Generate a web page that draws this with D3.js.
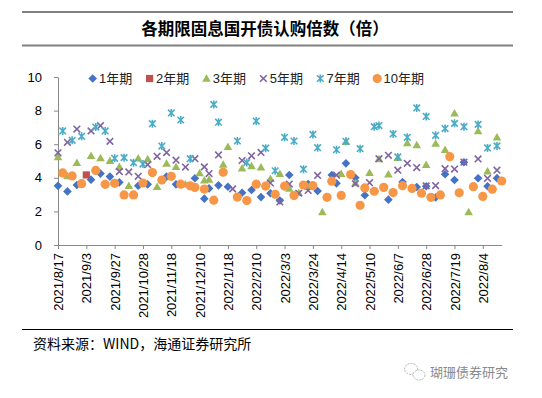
<!DOCTYPE html>
<html>
<head>
<meta charset="utf-8">
<script src="https://cdn.jsdelivr.net/npm/d3@7"></script>
<style>
  body{margin:0;background:#fff;}
  svg{display:block;font-family:"Liberation Sans",Arial,"Noto Sans CJK SC",sans-serif;}
  .axis path,.axis line{stroke:#898989;}
  .axis text{fill:#000;font-size:13px;font-family:"Liberation Sans",Arial,sans-serif;}
</style>
</head>
<body>
<div class="chart-container"></div>
<script>
//data: one category per issue date, null = that tenor was not issued that day
const _ = null;
const categories = [
  '2021/8/17','2021/8/19','2021/8/23','2021/8/24','2021/8/26','2021/8/31',
  '2021/9/3','2021/9/7','2021/9/9','2021/9/13','2021/9/15','2021/9/23',
  '2021/9/27','2021/9/29','2021/10/12','2021/10/18','2021/10/20','2021/10/25',
  '2021/10/28','2021/11/1','2021/11/3','2021/11/8','2021/11/10','2021/11/15',
  '2021/11/18','2021/11/22','2021/11/24','2021/11/29','2021/12/1','2021/12/6',
  '2021/12/10','2021/12/13','2021/12/15','2021/12/20','2021/12/27','2022/1/11',
  '2022/1/18','2022/1/19','2022/1/24','2022/1/26','2022/2/7','2022/2/8',
  '2022/2/10','2022/2/14','2022/2/16','2022/2/21','2022/2/23','2022/2/28',
  '2022/3/3','2022/3/7','2022/3/9','2022/3/14','2022/3/16','2022/3/21',
  '2022/3/24','2022/3/28','2022/3/30','2022/4/6','2022/4/11','2022/4/12',
  '2022/4/14','2022/4/18','2022/4/20','2022/4/25','2022/4/27','2022/5/9',
  '2022/5/10','2022/5/16','2022/5/18','2022/5/23','2022/5/25','2022/5/30',
  '2022/6/7','2022/6/13','2022/6/15','2022/6/20','2022/6/22','2022/6/27',
  '2022/6/28','2022/7/4','2022/7/6','2022/7/11','2022/7/13','2022/7/18',
  '2022/7/19','2022/7/21','2022/7/25','2022/7/27','2022/8/1','2022/8/3',
  '2022/8/4','2022/8/8','2022/8/10','2022/8/15','2022/8/17'
];
const tickLabels = ['2021/8/17','2021/9/3','2021/9/27','2021/10/28','2021/11/18','2021/12/10',
  '2022/1/18','2022/2/10','2022/3/3','2022/3/24','2022/4/14','2022/5/10',
  '2022/6/7','2022/6/28','2022/7/19','2022/8/4'];
const yTicks = [0,2,4,6,8,10];

const y1 = [3.52,_,3.19,_,3.57,_,_,3.89,_,4.25,
  _,4.07,_,3.73,_,_,_,3.53,_,3.61,
  _,_,_,4.07,_,3.61,_,_,_,3.97,
  _,2.76,3.37,_,3.55,_,3.47,_,_,3.11,
  _,3.27,_,2.85,_,3.08,_,2.65,_,4.17,
  _,_,_,3.63,_,3.21,_,_,4.17,3.67,
  _,4.86,_,4.00,_,2.96,_,_,_,_,
  2.70,_,_,3.75,_,_,3.45,_,3.50,_,
  2.83,_,4.21,_,3.87,_,4.93,_,_,3.97,
  _,3.50,_,3.98,_];
const y2 = [_,_,_,_,_,_,4.17,_,_,_,
  _,_,_,_,_,_,_,_,_,_, _,_,_,_,_,_,_,_,_,_,
  _,_,_,_,_,_,_,_,_,_, _,_,_,_,_,_,_,_,_,_,
  _,_,_,_,_,_,_,_,_,_, _,_,_,_,_,_,_,_,_,_,
  _,_,_,_,_,_,_,_,_,_, _,_,_,_,_,_,_,_,_,_,
  _,_,_,_,_];
const y3 = [5.24,_,4.11,_,4.90,_,_,5.32,_,5.18,
  _,5.02,_,4.66,_,3.53,_,5.16,_,5.12,
  _,3.47,_,4.86,_,4.66,_,3.62,_,_,
  4.29,3.85,3.90,_,_,4.80,5.85,_,_,4.57,
  _,4.70,_,4.63,_,3.95,_,4.25,_,3.37,
  _,3.12,_,3.47,_,_,1.97,_,_,_,
  4.24,6.15,_,3.70,_,_,4.31,_,5.12,_,
  4.22,_,5.20,_,6.07,_,5.95,_,4.78,_,
  6.04,_,5.67,_,7.84,_,_,1.97,_,6.79,
  _,4.39,_,6.41,_];
const y5 = [5.49,_,6.11,_,6.90,_,_,6.79,_,7.10,
  _,6.17,_,4.37,_,4.35,_,4.09,_,4.78,
  _,5.28,_,5.50,_,5.05,_,4.64,_,5.14,
  _,4.65,4.25,_,5.36,_,_,3.34,_,5.03,
  _,5.31,_,5.51,_,3.69,_,2.56,_,3.63,
  _,3.08,_,3.25,_,4.14,_,_,_,4.16,
  _,_,_,3.65,_,_,3.71,_,5.14,_,
  5.34,_,4.45,_,4.86,_,4.61,_,3.52,_,
  3.54,_,4.54,_,4.52,_,4.93,_,_,5.12,
  _,3.97,_,4.45,_];
const y7 = [_,6.79,_,6.23,_,6.47,_,_,7.02,_,
  6.79,_,5.16,_,5.20,_,4.90,_,4.82,_,
  7.22,_,5.89,_,7.86,_,7.44,_,5.14,_,
  _,_,_,8.37,7.31,_,_,_,6.19,_,
  4.91,_,7.38,_,5.76,_,4.42,_,6.41,_,
  6.19,_,4.51,_,6.58,5.79,_,_,_,5.67,
  _,6.17,_,_,5.73,_,_,7.04,7.11,_,
  _,6.61,5.24,_,6.41,_,8.16,_,7.65,_,
  6.53,_,6.93,_,7.24,_,7.04,_,_,7.18,
  _,5.78,_,5.90,_];
const y10 = [_,4.29,_,4.11,_,3.65,_,_,4.44,_,
  3.61,_,3.67,_,2.98,_,2.98,_,3.69,_,
  4.31,_,3.87,_,4.09,_,3.62,_,3.52,3.43,
  _,3.33,_,2.67,_,4.33,_,_,2.85,_,
  2.65,_,3.62,_,3.51,_,3.02,_,3.51,_,
  2.94,_,3.57,_,3.53,_,_,2.84,3.80,_,
  2.95,_,4.19,_,2.36,3.40,_,3.20,_,3.43,
  _,3.12,_,3.53,_,3.37,_,3.08,_,2.84,
  _,2.98,_,5.26,_,3.11,_,_,3.47,_,
  2.89,_,3.32,_,3.81];

const seriesNames = ['1年期','2年期','3年期','5年期','7年期','10年期'];
const seriesValues = [y1,y2,y3,y5,y7,y10];

// marker look per series (Excel style markers)
const markers = [
  {d:'M0,-4.3L4.3,0L0,4.3L-4.3,0Z', fill:'#4472C4', stroke:'none'},
  {d:'M-3.6,-3.6H3.6V3.6H-3.6Z', fill:'#C0504D', stroke:'none'},
  {d:'M0,-4.2L4.3,3.3L-4.3,3.3Z', fill:'#9BBB59', stroke:'none'},
  {d:'M-3.3,-3.3L3.3,3.3M3.3,-3.3L-3.3,3.3', fill:'none', stroke:'#8064A2'},
  {d:'M-3.3,-3.3L3.3,3.3M3.3,-3.3L-3.3,3.3M0,-4L0,4', fill:'none', stroke:'#4BACC6'},
  {d:d3.symbol(d3.symbolCircle, Math.PI*4.6*4.6)(), fill:'#F79646', stroke:'none'}
];

function drawMarker(sel, m){
  sel.attr('d', m.d).attr('fill', m.fill)
    .attr('stroke', m.stroke).attr('stroke-width', 1.6);
}

function setupCanvas(){
  const svg_width = 542, svg_height = 398;
  const plot = {left:58, right:501.7, top:77, bottom:245};

  const svg = d3.select('.chart-container').append('svg')
    .attr('width', svg_width).attr('height', svg_height);

  // header rules + title
  [12, 45.5].forEach(yy => svg.append('line')
    .attr('x1',22).attr('x2',513).attr('y1',yy).attr('y2',yy)
    .attr('stroke','#808080').attr('stroke-width',2));
  svg.append('text').attr('x',265).attr('y',35)
    .attr('text-anchor','middle')
    .style('font-family','"Noto Sans CJK SC",sans-serif')
    .style('font-size','16.5px').style('font-weight','700')
    .text('各期限固息国开债认购倍数（倍）');

  //scales
  const xScale = d3.scalePoint().domain(categories).range([plot.left, plot.right]);
  const yScale = d3.scaleLinear().domain([0,10]).range([plot.bottom, plot.top]);

  const xAxis = d3.axisBottom(xScale).tickValues(tickLabels)
    .tickSizeInner(4).tickSizeOuter(0);
  const xAxisDraw = svg.append('g').attr('class','x axis')
    .attr('transform',`translate(0,${plot.bottom})`).call(xAxis);
  xAxisDraw.selectAll('text')
    .attr('transform','rotate(-90)')
    .attr('text-anchor','end')
    .attr('x',-8).attr('y',0).attr('dy','0.35em');

  const yAxis = d3.axisLeft(yScale).tickValues(yTicks)
    .tickSizeInner(4).tickSizeOuter(0).tickPadding(12);
  svg.append('g').attr('class','y axis')
    .attr('transform',`translate(${plot.left},0)`).call(yAxis);

  // points
  seriesValues.forEach((vals, k) => {
    const pts = categories.map((c,i) => ({c:c, v:vals[i]})).filter(d => d.v !== null);
    svg.append('g').attr('class','series s'+k)
      .selectAll('path').data(pts).enter().append('path')
      .attr('transform', d => `translate(${xScale(d.c)},${yScale(d.v)})`)
      .call(drawMarker, markers[k]);
  });

  // legend
  const legend = svg.append('g').attr('class','legend')
    .attr('transform','translate(92.7,78.5)');
  seriesNames.forEach((name,k) => {
    const item = legend.append('g').attr('transform',`translate(${k*56.9},0)`);
    item.append('path').call(drawMarker, markers[k]);
    item.append('text').attr('x',6.3).attr('dy','0.36em')
      .style('font-size','13px').style('fill','#222').text(name);
  });

  // source
  svg.append('line').attr('x1',22).attr('x2',513).attr('y1',329.5).attr('y2',329.5)
    .attr('stroke','#000').attr('stroke-width',1);
  svg.append('text').attr('x',33).attr('y',349)
    .style('font-family','"Noto Sans CJK SC",sans-serif').style('font-size','14px')
    .text('资料来源：WIND，海通证券研究所');

  // watermark
  const wm = svg.append('g').attr('transform','translate(0,0)');
  wm.append('ellipse').attr('cx',411).attr('cy',369).attr('rx',6.5).attr('ry',5.5)
    .attr('fill','none').attr('stroke','#b5b5b5').attr('stroke-dasharray','2,1');
  wm.append('ellipse').attr('cx',419).attr('cy',375).attr('rx',6).attr('ry',5)
    .attr('fill','#fff').attr('stroke','#b5b5b5').attr('stroke-dasharray','2,1');
  wm.append('text').attr('x',430).attr('y',377)
    .style('font-family','"Noto Sans CJK SC",sans-serif').style('font-size','13px')
    .style('fill','#8a8a8a').text('瑚珊债券研究');
}

setupCanvas();
</script>
</body>
</html>
